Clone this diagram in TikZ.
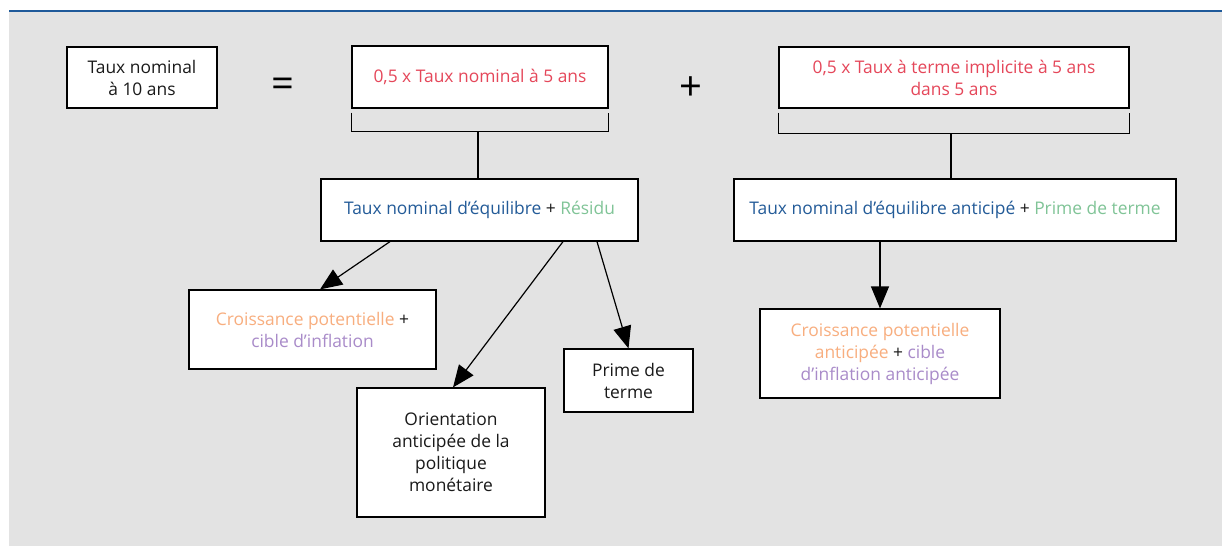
\documentclass[tikz,border=0pt]{standalone}
\usepackage{fontspec}
\setmainfont{Open Sans}
\usetikzlibrary{arrows.meta,positioning}
\definecolor{fondgris}{HTML}{E3E3E3}
\definecolor{bleufilet}{HTML}{1F5A9A}
\definecolor{texte}{HTML}{1A1A1A}
\definecolor{crouge}{HTML}{E5475A}
\definecolor{cbleu}{HTML}{235B98}
\definecolor{cvert}{HTML}{80C497}
\definecolor{corange}{HTML}{F8AE7F}
\definecolor{cviolet}{HTML}{A98BC9}

\begin{document}
\begin{tikzpicture}[
            x=0.5pt, y=-0.5pt,
            font=\fontsize{8.7}{11}\selectfont,
            text=texte,
            % boites blanches a bord noir
            boite/.style={rectangle, draw=black, line width=0.6pt, fill=white, align=center, inner sep=0pt},
            signe/.style={font=\fontsize{20}{20}\selectfont, text=black},
            trait/.style={line width=0.6pt},
            fleche/.style={line width=0.6pt, -{Triangle[length=11pt,width=9pt]}}
        ]

        % Fond et filet
        \useasboundingbox (0,0) rectangle (1222,546);
        \fill[fondgris] (9,12) rectangle (1222,546);
        \draw[bleufilet, line width=1pt] (9,11) -- (1222,11);

        % Ligne du haut
        \node (taux10) [boite, minimum width=75pt, minimum height=30.5pt] at (142,77.5) {Taux nominal\\à 10 ans};
        \node (egal) [signe] at (283,88) {=};
        \node (demi5) [boite, minimum width=128pt, minimum height=31pt, text=crouge] at (480,77) {0,5 x Taux nominal à 5 ans};
        \node (plus) [signe] at (691,89) {+};
        \node (demiterme) [boite, minimum width=175pt, minimum height=30.5pt, text=crouge] at (954,77.5) {0,5 x Taux à terme implicite à 5 ans\\dans 5 ans};

        % Decompositions
        \node (equil) [boite, minimum width=158.5pt, minimum height=31pt] at (479.5,210)
            {{\color{cbleu}Taux nominal d’équilibre} + {\color{cvert}Résidu}};
        \node (equilanti) [boite, minimum width=221pt, minimum height=31pt] at (955,210)
            {{\color{cbleu}Taux nominal d’équilibre anticipé} + {\color{cvert}Prime de terme}};

        \node (croiss) [boite, minimum width=123.5pt, minimum height=39.5pt] at (312.5,329.5)
            {{\color{corange}Croissance potentielle} +\\{\color{cviolet}cible d’inflation}};
        \node (orient) [boite, minimum width=94pt, minimum height=64.5pt] at (451,452.5)
            {Orientation\\anticipée de la\\politique\\monétaire};
        \node (prime) [boite, minimum width=64.5pt, minimum height=31.5pt] at (628.5,380.5) {Prime de\\terme};
        \node (croissanti) [boite, minimum width=120pt, minimum height=44.5pt] at (880,353.5)
            {{\color{corange}Croissance potentielle}\\{\color{corange}anticipée} + {\color{cviolet}cible}\\{\color{cviolet}d’inflation anticipée}};

        % Accolades sous les termes
        \draw[trait] ([yshift=-2pt]demi5.south west) -- ++(0,-9.5pt) -| ([yshift=-2pt]demi5.south east);
        \draw[trait] ([yshift=-2pt]demiterme.south west) -- ++(0,-10.5pt) -| ([yshift=-2pt]demiterme.south east);
        \coordinate (accB) at ([xshift=-1pt,yshift=-11.5pt]demi5.south);
        \coordinate (accC) at ([xshift=-1.5pt,yshift=-12.5pt]demiterme.south);
        \draw[trait] (accB) -- (accB |- equil.north);
        \draw[trait] (accC) -- (accC |- equilanti.north);

        % Fleches
        \draw[fleche] ([xshift=-44.75pt]equil.south) -- ([xshift=3.75pt]croiss.north);
        \draw[fleche] ([xshift=41.75pt]equil.south) -- ([xshift=1pt]orient.north);
        \draw[fleche] ([xshift=58.75pt]equil.south) -- (prime.north);
        \draw[fleche] (croissanti.north |- equilanti.south) -- (croissanti.north);

    \end{tikzpicture}
\end{document}
